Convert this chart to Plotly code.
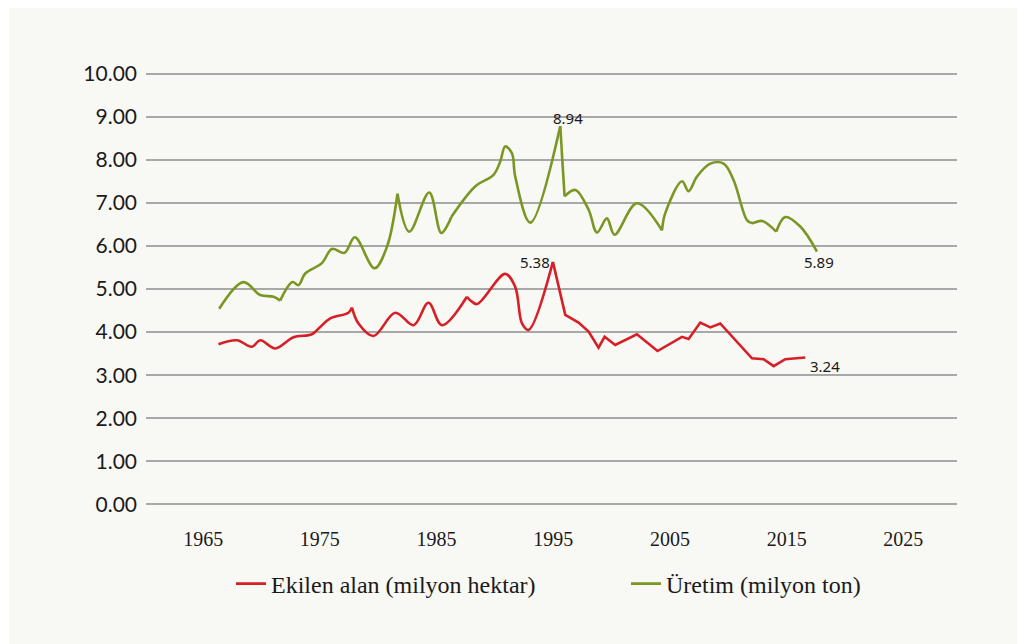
import plotly.graph_objects as go

# ---- data ----
area_years = [1966.31, 1967.89, 1969.17, 1969.89, 1971.17, 1972.74, 1974.32, 1975.03, 1975.89,
              1977.45, 1977.75, 1978.31, 1979.6, 1981.46, 1983.03, 1984.31, 1985.46, 1987.6,
              1987.88, 1988.46, 1990.88, 1991.74, 1992.32, 1992.88, 1994.97, 1996.03, 1997.17,
              1998.03, 1998.88, 1999.4, 2000.31, 2002.17, 2003.94, 2006.03, 2006.6, 2007.6,
              2008.46, 2009.31, 2012.03, 2013.03, 2013.89, 2014.88, 2016.6]
area_values = [3.72, 3.81, 3.66, 3.81, 3.62, 3.88, 3.95, 4.12, 4.32,
               4.45, 4.57, 4.20, 3.91, 4.45, 4.16, 4.68, 4.16, 4.82,
               4.74, 4.65, 5.35, 5.05, 4.20, 4.05, 5.63, 4.40, 4.22,
               4.01, 3.64, 3.89, 3.70, 3.95, 3.56, 3.89, 3.84, 4.22,
               4.11, 4.20, 3.39, 3.37, 3.21, 3.37, 3.41]

prod_years = [1966.37, 1968.45, 1969.89, 1971.03, 1971.6, 1972.65, 1973.17, 1973.74, 1975.17,
              1976.03, 1977.11, 1978.0, 1979.68, 1980.75, 1981.65, 1982.66, 1984.37, 1985.4,
              1986.03, 1986.26, 1988.31, 1989.88, 1990.46, 1990.88, 1991.46, 1991.74, 1993.03,
              1995.6, 1995.97, 1996.89, 1998.03, 1998.75, 1999.6, 2000.25, 2002.17, 2004.32,
              2004.6, 2006.03, 2006.6, 2007.32, 2008.46, 2009.6, 2010.45, 2011.6, 2012.03,
              2012.89, 2014.11, 2014.88, 2016.17, 2017.6]
prod_values = [4.54, 5.16, 4.86, 4.82, 4.73, 5.16, 5.09, 5.36, 5.60,
               5.93, 5.84, 6.20, 5.48, 5.98, 7.21, 6.33, 7.24, 6.30,
               6.53, 6.67, 7.38, 7.65, 7.96, 8.31, 8.15, 7.61, 6.54,
               8.78, 7.15, 7.30, 6.84, 6.31, 6.64, 6.26, 6.99, 6.36,
               6.76, 7.50, 7.27, 7.61, 7.91, 7.91, 7.53, 6.60, 6.53,
               6.58, 6.33, 6.67, 6.45, 5.87]

# indices where the drawn line has a sharp corner
area_breaks = [10, 17, 24]
area_linear_from = 24
prod_breaks = [4, 14, 19, 27, 28, 35, 46]

labels = [  # (series, point index, text)
    ("prod", 27, "8.94"),
    ("area", 24, "5.38"),
    ("prod", 49, "5.89"),
    ("area", 42, "3.24"),
]

x_ticks = [1965, 1975, 1985, 1995, 2005, 2015, 2025]
y_ticks = [0, 1, 2, 3, 4, 5, 6, 7, 8, 9, 10]

RED = "#d61f26"
GREEN = "#7b9624"
BG = "#f8f8f4"

fig = go.Figure()


def add_series(xs, ys, breaks, name, color, linear_from=None):
    cuts = [0] + breaks + [len(xs) - 1]
    first = True
    for a, b in zip(cuts[:-1], cuts[1:]):
        shape = "spline"
        if linear_from is not None and a >= linear_from:
            shape = "linear"
        fig.add_trace(go.Scatter(
            x=xs[a:b + 1], y=ys[a:b + 1], mode="lines", name=name,
            legendgroup=name, showlegend=first,
            line=dict(color=color, width=2.6, shape=shape, smoothing=1.0),
            hoverinfo="x+y"))
        first = False


add_series(area_years, area_values, area_breaks, "Ekilen alan (milyon hektar)", RED,
           linear_from=area_linear_from)
add_series(prod_years, prod_values, prod_breaks, "Üretim (milyon ton)", GREEN)

ann = []
for series, idx, text in labels:
    xs, ys = (prod_years, prod_values) if series == "prod" else (area_years, area_values)
    if text == "8.94":
        kw = dict(xanchor="center", yanchor="middle", xshift=8, yshift=8)
    elif text == "5.38":
        kw = dict(xanchor="right", yanchor="middle", xshift=-1, yshift=0)
    elif text == "5.89":
        kw = dict(xanchor="center", yanchor="middle", xshift=2, yshift=-10)
    else:
        kw = dict(xanchor="left", yanchor="middle", xshift=3, yshift=-8)
    ann.append(dict(x=xs[idx], y=ys[idx], xref="x", yref="y", text=text, showarrow=False,
                    font=dict(family="Noto Sans", size=15, color="#1a1a1a"), **kw))

# page body has an 8px margin, so figure pixel = screen pixel - 8
L, R, T, B = 138, 76, 63, 145
W, H = 1025, 644
pw, ph = W - L - R, H - T - B

fig.update_layout(
    width=W, height=H,
    margin=dict(l=L, r=R, t=T, b=B),
    paper_bgcolor="white",
    plot_bgcolor="rgba(0,0,0,0)",
    showlegend=True,
    legend=dict(orientation="h", x=(223 - L) / pw, xanchor="left",
                y=(H - B - 576) / ph, yanchor="middle",
                font=dict(family="Liberation Serif", size=24, color="#1a1a1a"),
                bgcolor="rgba(0,0,0,0)", entrywidth=350, entrywidthmode="pixels"),
    annotations=ann,
    shapes=[dict(type="rect", xref="paper", yref="paper",
                 x0=(1 - L) / pw, x1=(W + 10 - L) / pw,
                 y0=(H - B - H - 10) / ph, y1=(H - B + 10) / ph,
                 fillcolor=BG, line=dict(width=0), layer="below")],
)

fig.update_xaxes(range=[1960.1, 2029.6], tickvals=x_ticks, ticktext=[str(v) for v in x_ticks],
                 showgrid=False, zeroline=False, showline=False, ticks="",
                 ticklabelstandoff=18,
                 tickfont=dict(family="Liberation Serif", size=20, color="#1a1a1a"))
fig.update_yaxes(range=[-0.06, 10.06], tickvals=y_ticks, tickformat=".2f",
                 showgrid=True, gridcolor="#a8a8a8", gridwidth=2,
                 zeroline=False, showline=False, ticks="", ticklabelstandoff=8,
                 tickfont=dict(family="Lato", size=21, color="#1a1a1a"))

fig.write_html("out.html")
